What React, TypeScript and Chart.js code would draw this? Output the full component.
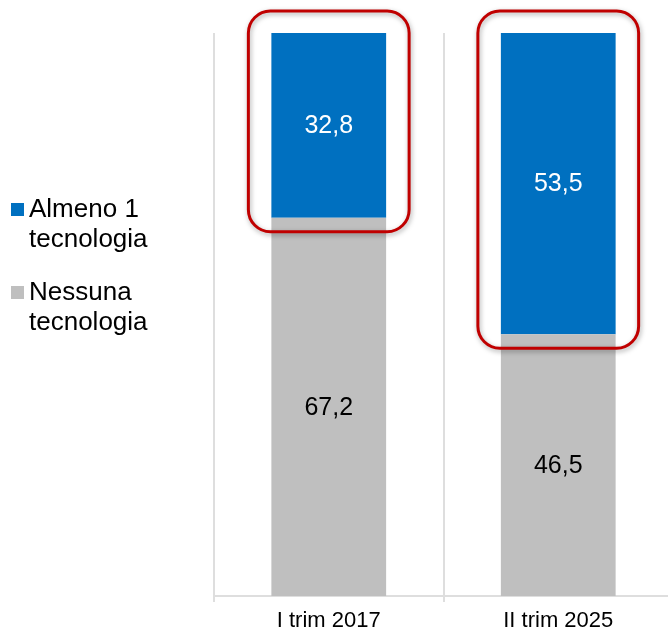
import React, { useEffect, useRef } from "react";
import { Chart, registerables } from "chart.js";

Chart.register(...registerables);

const categories = ["I trim 2017", "II trim 2025"];
const nessunaValues = [67.2, 46.5];
const almenoValues = [32.8, 53.5];
const legendLabels = [
  ["Almeno 1", "tecnologia"],
  ["Nessuna", "tecnologia"],
];
const BLUE = "#0070C0";
const GRAY = "#BFBFBF";
const FONT = "'Liberation Sans', Arial, sans-serif";

const fmt = (v: number) => v.toFixed(1).replace(".", ",");

const labelsPlugin = {
  id: "valueLabels",
  afterDatasetsDraw(chart: any) {
    const ctx = chart.ctx;
    ctx.save();
    ctx.font = `25px ${FONT}`;
    ctx.textAlign = "center";
    ctx.textBaseline = "middle";
    chart.data.datasets.forEach((ds: any, di: number) => {
      const meta = chart.getDatasetMeta(di);
      meta.data.forEach((el: any, i: number) => {
        const v = ds.data[i];
        ctx.fillStyle = di === 1 ? "#ffffff" : "#000000";
        ctx.fillText(fmt(v), el.x, (el.y + el.base) / 2 + 1);
      });
    });
    ctx.restore();
  },
};

const highlightPlugin = {
  id: "highlight",
  afterDraw(chart: any) {
    const ctx = chart.ctx;
    const meta = chart.getDatasetMeta(1);
    ctx.save();
    meta.data.forEach((el: any) => {
      const l = el.x - el.width / 2 - 23;
      const r = el.x + el.width / 2 + 23;
      const t = el.y - 22;
      const b = el.base + 14;
      const rad = 22;
      ctx.beginPath();
      ctx.moveTo(l + rad, t);
      ctx.lineTo(r - rad, t);
      ctx.arcTo(r, t, r, t + rad, rad);
      ctx.lineTo(r, b - rad);
      ctx.arcTo(r, b, r - rad, b, rad);
      ctx.lineTo(l + rad, b);
      ctx.arcTo(l, b, l, b - rad, rad);
      ctx.lineTo(l, t + rad);
      ctx.arcTo(l, t, l + rad, t, rad);
      ctx.closePath();
      ctx.shadowColor = "rgba(0,0,0,0.35)";
      ctx.shadowBlur = 5;
      ctx.shadowOffsetX = 1;
      ctx.shadowOffsetY = 2;
      ctx.lineWidth = 3;
      ctx.strokeStyle = "#C00000";
      ctx.stroke();
    });
    ctx.restore();
  },
};

const legendPlugin = {
  id: "sideLegend",
  afterDraw(chart: any) {
    const ctx = chart.ctx;
    const colors = [BLUE, GRAY];
    const tops = [203, 286];
    ctx.save();
    ctx.font = `26px ${FONT}`;
    ctx.textAlign = "left";
    ctx.textBaseline = "alphabetic";
    legendLabels.forEach((lines, i) => {
      ctx.fillStyle = colors[i];
      ctx.fillRect(11, tops[i], 13, 13);
      ctx.fillStyle = "#000000";
      lines.forEach((line, j) => {
        ctx.fillText(line, 29, tops[i] + 14 + j * 30);
      });
    });
    ctx.restore();
  },
};

export default function App() {
  const ref = useRef<HTMLCanvasElement>(null);
  useEffect(() => {
    document.body.style.margin = "0";
    document.body.style.overflow = "hidden";
    const chart = new Chart(ref.current!, {
      type: "bar",
      data: {
        labels: categories,
        datasets: [
          {
            label: "Nessuna tecnologia",
            data: nessunaValues,
            backgroundColor: GRAY,
          },
          {
            label: "Almeno 1 tecnologia",
            data: almenoValues,
            backgroundColor: BLUE,
          },
        ],
      },
      options: {
        responsive: false,
        animation: false,
        devicePixelRatio: 1,
        layout: { padding: { left: 214, top: 33, right: 0, bottom: 0 } },
        plugins: { legend: { display: false }, tooltip: { enabled: false } },
        datasets: { bar: { categoryPercentage: 1, barPercentage: 0.5 } },
        scales: {
          x: {
            stacked: true,
            grid: {
              color: "#DEDEDE",
              lineWidth: 2,
              tickLength: 6,
              offset: true,
            },
            border: { color: "#DEDEDE", width: 2 },
            ticks: {
              color: "#000000",
              font: { family: FONT, size: 22 },
              padding: 6,
            },
            afterFit: (axis: any) => {
              axis.height = 34;
            },
          },
          y: {
            stacked: true,
            display: false,
            min: 0,
            max: 100,
          },
        },
      },
      plugins: [labelsPlugin, highlightPlugin, legendPlugin],
    });
    return () => chart.destroy();
  }, []);
  return (
    <div style={{ width: 668, height: 630, overflow: "hidden" }}>
      <canvas ref={ref} width={673} height={630} style={{ display: "block" }} />
    </div>
  );
}
